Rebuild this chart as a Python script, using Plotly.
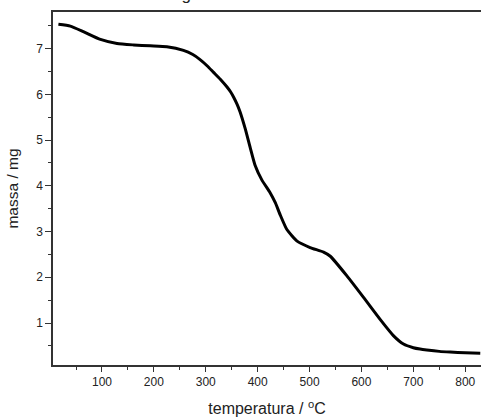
import plotly.graph_objects as go

temperature = [16, 39, 64, 97, 129, 161, 193, 225, 257, 275, 289, 303, 315, 328, 341, 348,
               354, 360, 366, 376, 386, 395, 408, 424, 434, 444, 456, 476, 501, 527, 540,
               572, 604, 636, 662, 681, 700, 713, 726, 750, 771, 800, 829]
mass = [7.53, 7.49, 7.37, 7.20, 7.11, 7.08, 7.06, 7.04, 6.96, 6.87, 6.76, 6.62, 6.48, 6.33,
        6.16, 6.05, 5.93, 5.79, 5.62, 5.25, 4.82, 4.45, 4.13, 3.85, 3.63, 3.35, 3.05, 2.79,
        2.65, 2.55, 2.46, 2.03, 1.56, 1.08, 0.72, 0.54, 0.46, 0.43, 0.41, 0.38, 0.365,
        0.35, 0.34]

x_ticks = [100, 200, 300, 400, 500, 600, 700, 800]
y_ticks = [1, 2, 3, 4, 5, 6, 7]

fig = go.Figure()
fig.add_trace(go.Scatter(x=temperature, y=mass, mode="lines",
                         line=dict(color="black", width=3, shape="spline", smoothing=0.5),
                         showlegend=False, hoverinfo="skip"))

font = "Liberation Sans, Arial, sans-serif"
fig.update_layout(
    width=481, height=419,
    margin=dict(l=53, r=0, t=12, b=54, autoexpand=False),
    paper_bgcolor="white", plot_bgcolor="white",
    font=dict(family=font, color="#222"),
    title=dict(text="g", x=0.387, xanchor="center", y=0.999, yref="container",
               yanchor="bottom", automargin=False, font=dict(size=17, color="#222")),
)
fig.update_xaxes(range=[5.6, 830.4], tickvals=x_ticks, ticks="outside", ticklen=5,
                 tickcolor="#333", showline=True, linecolor="#333", linewidth=1.5,
                 mirror=True, showgrid=False, zeroline=False, automargin=False,
                 minor=dict(dtick=50, tick0=0, ticks="outside", ticklen=3, tickcolor="#333", showgrid=False),
                 tickfont=dict(size=12),
                 title=dict(text="temperatura / <sup>o</sup>C", font=dict(size=16), standoff=15))
fig.update_yaxes(range=[0.082, 7.80], tickvals=y_ticks, ticks="outside", ticklen=6,
                 tickcolor="#333", showline=True, linecolor="#333", linewidth=1.5,
                 mirror=False, showgrid=False, zeroline=False, automargin=False,
                 minor=dict(dtick=0.5, tick0=0, ticks="outside", ticklen=3, tickcolor="#333", showgrid=False),
                 tickfont=dict(size=12),
                 title=dict(text="massa / mg", font=dict(size=15.5), standoff=14))

fig.write_html("out.html", config={"displayModeBar": False},
               post_script="document.body.style.margin='0';")
